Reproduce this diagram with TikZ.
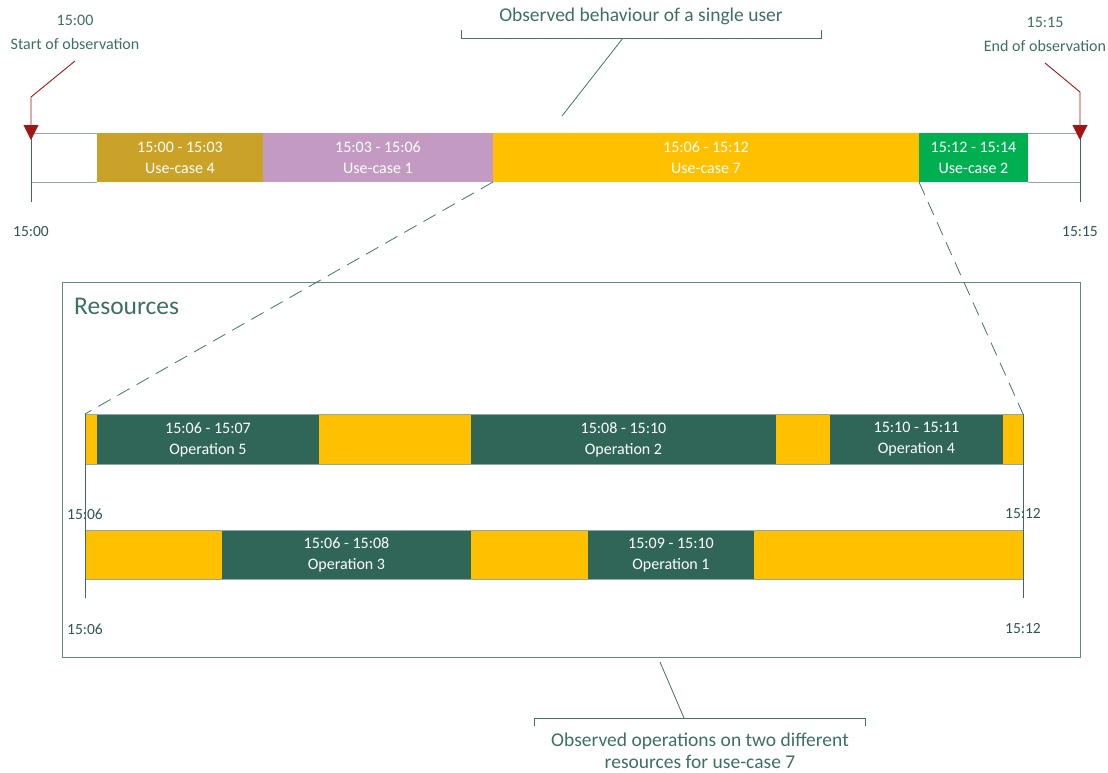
\documentclass[tikz,border=0pt]{standalone}
\usepackage{fontspec}
\setmainfont{Carlito}
\usetikzlibrary{arrows.meta}
\definecolor{ink}{HTML}{3D6F63}
\definecolor{timeink}{HTML}{2F5555}
\definecolor{conn}{HTML}{3F7565}
\definecolor{rail}{HTML}{8FA9A9}
\definecolor{tickc}{HTML}{3E6868}
\definecolor{marker}{HTML}{A31515}
\definecolor{ucgold}{HTML}{C9A227}
\definecolor{ucmauve}{HTML}{C39BC2}
\definecolor{ucyellow}{HTML}{FFC000}
\definecolor{ucgreen}{HTML}{00B050}
\definecolor{opgreen}{HTML}{2F6657}
\definecolor{framec}{HTML}{5E8A80}
\tikzset{
  seg/.style={inner sep=0pt, outer sep=0pt, text=white, align=center,
    font=\fontsize{16}{21}\selectfont},
  idle/.style={seg, fill=ucyellow},
  opbox/.style={seg, fill=opgreen},
  railline/.style={draw=rail, line width=0.9pt},
  tickline/.style={draw=tickc, line width=0.9pt},
  markerline/.style={draw=marker, line width=0.9pt, -{Triangle[width=15pt,length=15pt]}},
  connline/.style={draw=conn, line width=0.8pt},
  zoomline/.style={draw=conn, line width=0.8pt, dash pattern=on 14pt off 8pt},
  bracketline/.style={draw=conn, line width=0.8pt},
  timelbl/.style={text=timeink, font=\fontsize{15.5}{18}\selectfont, inner sep=0pt},
  notelbl/.style={text=ink, align=center, font=\fontsize{16}{24}\selectfont, inner sep=0pt},
  titlelbl/.style={text=ink, align=center, font=\fontsize{19.5}{22}\selectfont, inner sep=0pt},
}
\begin{document}
\begin{tikzpicture}[x=1pt,y=-1pt]
\useasboundingbox (0,0) rectangle (1108,772);

% ---------- overall timeline of the user session ----------
\node[seg, fill=ucgold,   minimum width=166, minimum height=49] (uc4) at (180,157.5)   {15:00 - 15:03\\Use-case 4};
\node[seg, fill=ucmauve,  minimum width=230, minimum height=49] (uc1) at (378,157.5)   {15:03 - 15:06\\Use-case 1};
\node[seg, fill=ucyellow, minimum width=426, minimum height=49] (uc7) at (706,157.5)   {15:06 - 15:12\\Use-case 7};
\node[seg, fill=ucgreen,  minimum width=109, minimum height=49] (uc2) at (973.5,157.5) {15:12 - 15:14\\Use-case 2};

\coordinate (t0top) at (31,133);
\coordinate (t0bot) at (31,182);
\coordinate (t0end) at (31,202);
\coordinate (t1top) at (1080,133);
\coordinate (t1bot) at (1080,182);
\coordinate (t1end) at (1080,202);

\draw[railline] (t0top) -- (uc4.north west);
\draw[railline] (uc2.north east) -- (t1top);
\draw[railline] (t0bot) -- (uc4.south west);
\draw[railline] (uc2.south east) -- (t1bot);
\draw[tickline] (t0top) -- (t0end);
\draw[tickline] (t1top) -- (t1end);

\node[timelbl] (t0lbl) at (31,232) {15:00};
\node[timelbl] (t1lbl) at (1080,232) {15:15};

% start / end markers
\node[notelbl] (startlbl) at (75,32) {15:00\\Start of observation};
\node[notelbl] (endlbl) at (1045,34) {15:15\\End of observation};
\coordinate (s0) at (75,61);
\coordinate (s1) at (31,97);
\coordinate (s2) at (31,140);
\coordinate (e0) at (1045,63);
\coordinate (e1) at (1080,92);
\coordinate (e2) at (1080,140);
\draw[markerline] (s0) -- (s1) -- (s2);
\draw[markerline] (e0) -- (e1) -- (e2);

% top bracket with caption
\node[titlelbl] (toptitle) at (641,16) {Observed behaviour of a single user};
\coordinate (tb0) at (461,30);
\coordinate (tb1) at (461,38);
\coordinate (tb2) at (821,38);
\coordinate (tb3) at (821,30);
\coordinate (tbm) at (623,38);
\coordinate (tbp) at (562,116);
\draw[bracketline] (tb0) -- (tb1) -- (tb2) -- (tb3);
\draw[connline] (tbm) -- (tbp);

% ---------- resources panel ----------
\node[draw=framec, line width=0.9pt, minimum width=1018, minimum height=375, inner sep=0pt] (res) at (571,469.5) {};
\node[text=ink, font=\fontsize{25.5}{28}\selectfont, anchor=west, inner sep=0pt] (reslbl) at (74,306) {Resources};

% resource 1
\node[idle,  minimum width=12,  minimum height=50] (r1a) at (91,439) {};
\node[opbox, minimum width=222, minimum height=50] (r1b) at (208,439.5) {15:06 - 15:07\\Operation 5};
\node[idle,  minimum width=152, minimum height=50] (r1c) at (395,439) {};
\node[opbox, minimum width=305, minimum height=50] (r1d) at (623.5,439.5) {15:08 - 15:10\\Operation 2};
\node[idle,  minimum width=54,  minimum height=50] (r1e) at (803,439) {};
\node[opbox, minimum width=173, minimum height=50] (r1f) at (916.5,439.5) {15:10 - 15:11\\Operation 4};
\node[idle,  minimum width=20,  minimum height=50] (r1g) at (1013,439) {};
\draw[railline] (r1a.north west) -- (r1g.north east);
\draw[railline] (r1a.south west) -- (r1g.south east);

% resource 2
\node[idle,  minimum width=137, minimum height=49] (r2a) at (153.5,554.5) {};
\node[opbox, minimum width=249, minimum height=49] (r2b) at (346.5,555) {15:06 - 15:08\\Operation 3};
\node[idle,  minimum width=117, minimum height=49] (r2c) at (529.5,554.5) {};
\node[opbox, minimum width=166, minimum height=49] (r2d) at (671,555) {15:09 - 15:10\\Operation 1};
\node[idle,  minimum width=269, minimum height=49] (r2e) at (888.5,554.5) {};
\draw[railline] (r2a.north west) -- (r2e.north east);
\draw[railline] (r2a.south west) -- (r2e.south east);

% time ticks of the resources
\coordinate (rl0) at (85,414);
\coordinate (rl1) at (85,598);
\coordinate (rr0) at (1023,414);
\coordinate (rr1) at (1023,598);
\draw[tickline] (rl0) -- (rl1);
\draw[tickline] (rr0) -- (rr1);
\node[timelbl] (rl0lbl) at (85,514) {15:06};
\node[timelbl] (rl1lbl) at (85,629) {15:06};
\node[timelbl] (rr0lbl) at (1023,514) {15:12};
\node[timelbl] (rr1lbl) at (1023,629) {15:12};

% zoom from use-case 7 into the resources
\draw[zoomline] (uc7.south west) -- (r1a.north west);
\draw[zoomline] (uc2.south west) -- (r1g.north east);

% bottom bracket with caption
\coordinate (bb0) at (534,726);
\coordinate (bb1) at (534,718);
\coordinate (bb2) at (865,718);
\coordinate (bb3) at (865,726);
\coordinate (bbm) at (684,718);
\coordinate (bbp) at (660,662);
\draw[bracketline] (bb0) -- (bb1) -- (bb2) -- (bb3);
\draw[connline] (bbp) -- (bbm);
\node[titlelbl] (bottitle) at (700,751) {Observed operations on two different\\resources for use-case 7};
\end{tikzpicture}
\end{document}
